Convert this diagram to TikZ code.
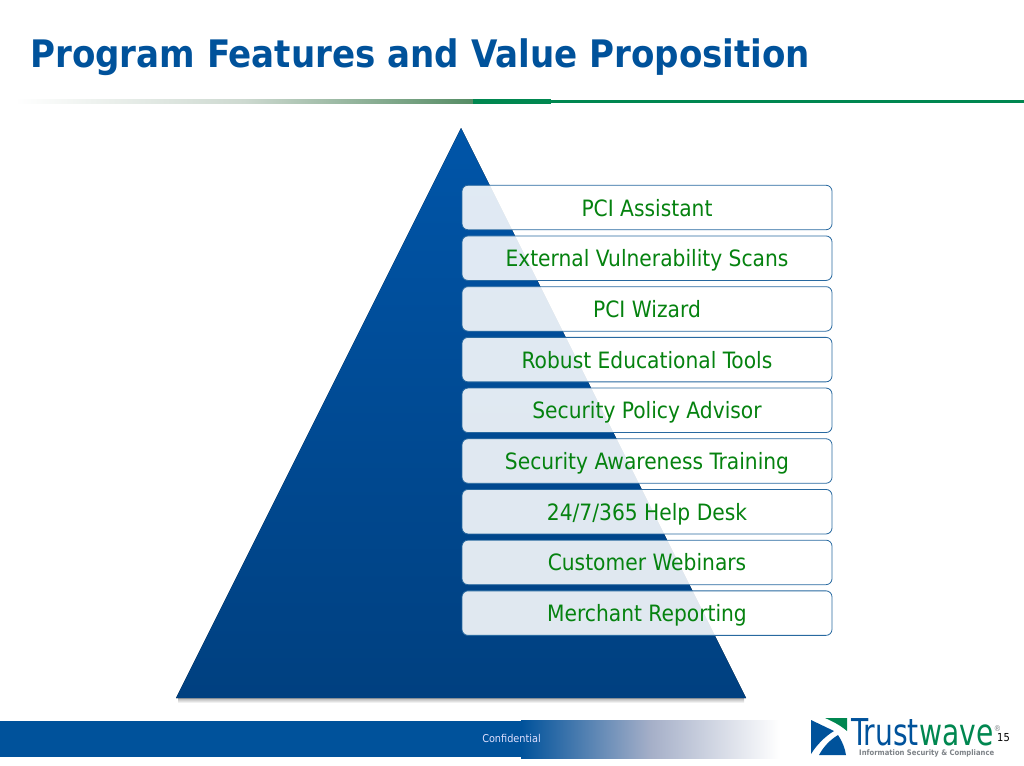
\documentclass[tikz,border=0pt]{standalone}
\usepackage{fontspec}
\setmainfont{DejaVu Sans Condensed}
\usetikzlibrary{positioning}
\definecolor{twblue}{RGB}{0,82,155}
\definecolor{twtop}{RGB}{0,85,168}
\definecolor{twbot}{RGB}{0,64,128}
\definecolor{twgreen}{RGB}{0,135,80}
\definecolor{twedge}{RGB}{40,105,160}
\definecolor{txtgreen}{RGB}{5,130,15}
\definecolor{twgray}{RGB}{125,130,135}

\begin{document}
\begin{tikzpicture}[x=1pt,y=1pt]
        \tikzset{feature/.style={draw=twedge, line width=0.8pt, rounded corners=6pt, fill=white, fill opacity=0.88, text opacity=1, text=txtgreen, align=center, minimum width=370pt, minimum height=44.5pt, inner sep=0pt, text height=17pt, text depth=0pt, font=\fontsize{22.5}{26}\selectfont},
        logotext/.style={inner sep=0pt, anchor=base west},
        }
        \useasboundingbox (0,0) rectangle (1024,-765);
        \fill[white] (0,0) rectangle (1024,-765);

%% header
        \node [anchor=base west, inner sep=0pt, text=twblue, font=\fontsize{37.9}{40}\selectfont\bfseries] (title) at (30,-68) {Program Features and Value Proposition};
        \fill[left color=white, right color={rgb,255:red,85;green,140;blue,100}, middle color={rgb,255:red,205;green,217;blue,208}] (15,-99.5) rectangle (473,-104);
        \fill[twgreen] (473,-99.5) rectangle (551,-104.5);
        \fill[twgreen] (551,-100) rectangle (1024,-103.5);

%% pyramid
        \coordinate (apex) at (461,-128);
        \coordinate (base_l) at (176,-698);
        \coordinate (base_r) at (746,-698);
        \fill[top color=black!30, bottom color=white] (178,-698) rectangle (744,-703);
        \fill[top color=twtop, bottom color=twbot, middle color=twtop!50!twbot] (apex) -- (base_r) -- (base_l) -- cycle;

%% boxes
        \node [feature] (assistant) at (647,-207.5) {PCI Assistant};
        \node [feature, below=5.4pt of assistant] (scans) {External Vulnerability Scans};
        \node [feature, below=5.4pt of scans] (wizard) {PCI Wizard};
        \node [feature, below=5.4pt of wizard] (tools) {Robust Educational Tools};
        \node [feature, below=5.4pt of tools] (policy) {Security Policy Advisor};
        \node [feature, below=5.4pt of policy] (training) {Security Awareness Training};
        \node [feature, below=5.4pt of training] (helpdesk) {24/7/365 Help Desk};
        \node [feature, below=5.4pt of helpdesk] (webinars) {Customer Webinars};
        \node [feature, below=5.4pt of webinars] (reporting) {Merchant Reporting};

%% footer
        \fill[twblue] (0,-721) rectangle (521,-757);
        \fill[left color=twblue, right color=white, middle color={rgb,255:red,165;green,175;blue,200}] (521,-720) rectangle (780,-758);
        \node [text=white!88!blue, inner sep=0pt, font=\fontsize{10.8}{13}\selectfont] (conf) at (511.5,-738.5) {Confidential};

%% logo
        \fill[twblue] (811,-720) -- (834,-731) .. controls (824,-737) and (816,-746) .. (811,-754) -- cycle;
        \fill[twblue] (819,-755) .. controls (824,-746) and (830,-740) .. (838,-735) .. controls (842,-741) and (845,-748) .. (846,-755) -- cycle;
        \fill[twgreen] (825,-718) -- (847,-718) -- (847,-731) .. controls (840,-725) and (832,-721) .. (825,-718) -- cycle;
        \node [logotext, text=twblue, font=\fontsize{37}{40}\selectfont] (trust) at (851,-745) {\addfontfeature{FakeStretch=0.845}Trust};
        \node [logotext, text=twgreen, font=\fontsize{37}{40}\selectfont, right=0pt of trust.base east, anchor=base west] (wave) {\addfontfeature{FakeStretch=0.845}wave};
        \node [text=twgray, inner sep=0pt, font=\fontsize{8}{9}\selectfont] (reg) at (997.5,-728.5) {®};
        \node [logotext, text=twgray, font=\fontsize{7.6}{9}\selectfont\bfseries] (slogan) at (859,-755.5) {Information Security \& Compliance};
        \node [text=black, inner sep=0pt, font=\fontsize{11}{13}\selectfont] (pageno) at (1003.5,-737.5) {15};
\end{tikzpicture}
\end{document}
